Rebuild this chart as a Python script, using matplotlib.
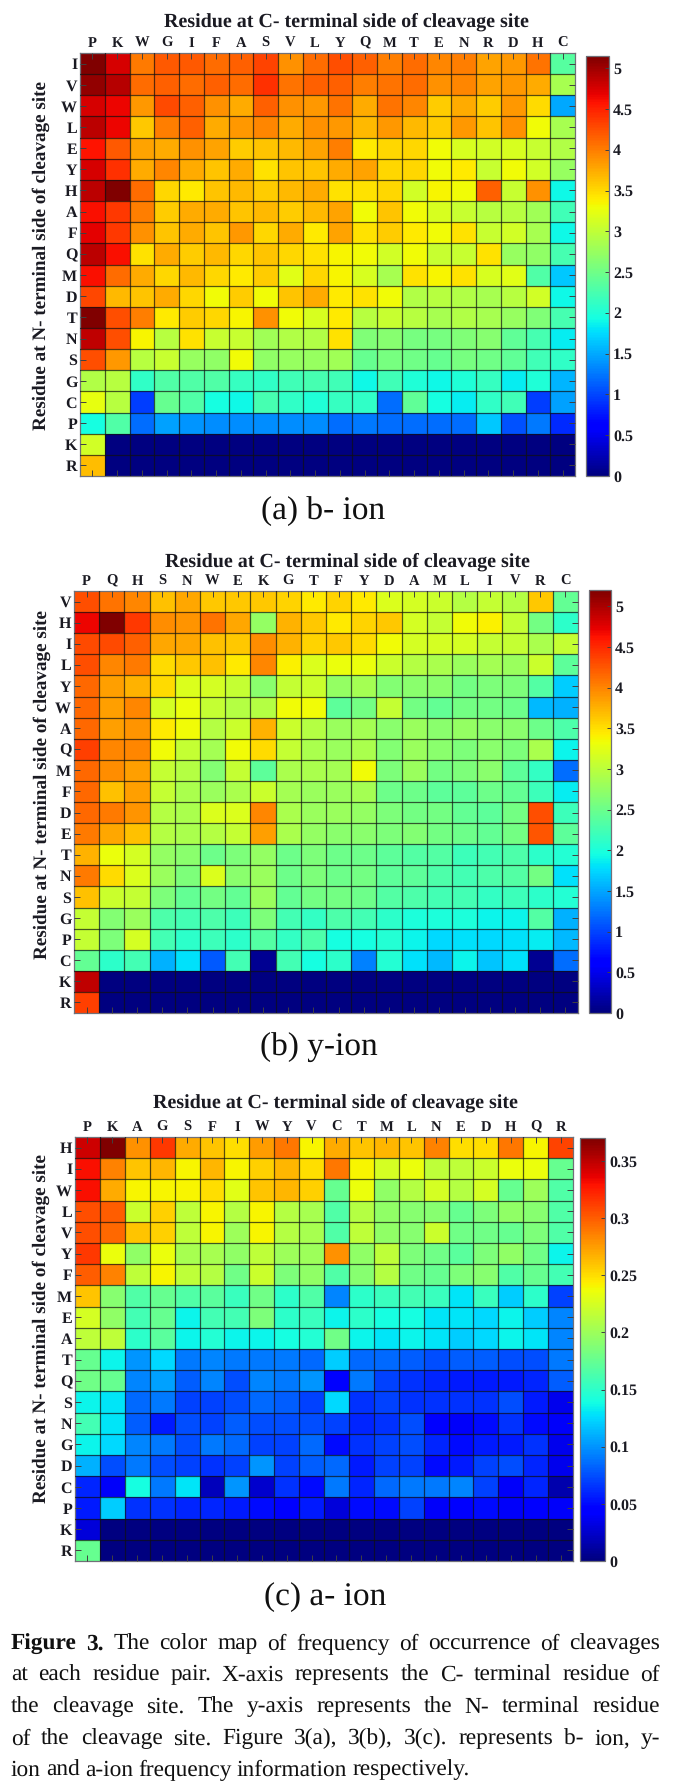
import numpy as np
import matplotlib
matplotlib.use("Agg")
import matplotlib.pyplot as plt

W, H = 674, 1784
plt.rcParams['font.family'] = ['Liberation Serif', 'DejaVu Serif']
plt.rcParams['text.hinting'] = 'no_hinting'

a_cols = list("PKWGIFASVLYQMTENRDHC")
a_rows = list("IVWLEYHAFQMDTNSGCPKR")
a_vals = [
[5.15,4.75,4.02,4.2,4.2,4.1,4.15,4.32,3.9,4.1,4.25,4.15,4.0,4.1,3.95,4.0,3.8,3.85,4.05,2.35],
[5.05,4.9,4.1,4.15,4.1,4.15,4.1,4.42,4.05,4.15,4.15,4.0,4.05,4.1,3.9,3.95,3.8,3.85,3.75,2.85],
[4.75,4.65,3.86,4.28,4.15,3.9,3.75,4.15,3.9,3.85,4.05,3.75,4.05,3.95,3.57,3.75,3.57,3.85,3.5,1.5],
[4.88,4.65,3.6,4.0,4.15,3.75,3.85,3.95,3.75,3.9,3.85,3.67,3.85,3.67,3.57,3.85,3.62,3.9,3.3,2.85],
[4.58,4.2,3.8,3.75,3.9,3.8,3.57,3.62,3.67,3.8,4.0,3.4,3.52,3.52,3.3,3.15,3.1,3.15,3.05,2.9],
[4.75,4.42,3.75,3.95,3.75,3.62,3.75,3.45,3.62,3.62,3.75,3.8,3.52,3.52,3.3,3.4,3.05,3.3,3.1,2.75],
[4.88,5.15,4.1,3.52,3.4,3.62,3.67,3.57,3.67,3.75,3.45,3.45,3.52,3.1,3.35,3.3,4.15,3.05,3.9,1.9],
[4.6,4.37,4.0,3.57,3.75,3.75,3.62,3.67,3.57,3.67,3.8,3.3,3.62,3.3,3.15,3.05,2.95,2.95,2.8,2.2],
[4.7,4.37,3.9,3.62,3.75,3.62,3.85,3.52,3.75,3.4,3.8,3.45,3.57,3.4,3.3,3.45,3.05,3.1,2.85,1.9],
[4.88,4.6,3.45,3.75,3.57,3.67,3.52,3.62,3.52,3.45,3.35,3.3,3.1,3.3,3.05,3.05,3.45,2.75,2.7,2.25],
[4.6,4.1,3.75,3.52,3.67,3.52,3.4,3.57,3.2,3.52,3.35,3.15,2.85,3.45,3.35,3.45,3.15,3.2,2.3,1.65],
[4.3,3.67,3.62,3.75,3.52,3.3,3.57,3.3,3.62,3.75,3.4,3.45,3.3,2.9,2.95,2.9,2.85,2.95,3.1,1.9],
[5.15,4.25,4.0,3.4,3.57,3.52,3.35,3.9,3.3,3.15,3.4,2.95,3.05,2.95,2.85,2.9,2.85,2.75,2.6,2.25],
[4.85,4.25,3.35,2.95,3.45,3.05,3.05,2.8,2.9,2.9,3.45,2.6,2.65,2.55,2.55,2.6,2.65,2.4,2.25,1.85],
[4.25,3.85,2.95,3.05,2.75,2.7,3.3,2.7,2.75,2.75,2.8,2.45,2.55,2.5,2.45,2.55,2.5,2.4,2.2,2.1],
[2.9,2.95,2.1,2.3,2.3,2.3,2.15,2.1,2.2,2.25,2.2,1.9,2.2,2.0,1.9,2.0,2.15,1.85,2.0,1.55],
[3.25,2.95,0.95,2.45,2.3,1.95,1.9,2.25,2.1,2.0,2.15,2.1,1.2,2.4,1.95,1.85,2.1,2.2,0.95,1.45],
[1.95,2.3,1.2,1.45,1.4,1.35,1.35,1.35,1.35,1.35,1.2,1.25,1.2,1.2,1.2,1.2,1.65,1.05,1.25,0.85],
[3.1]+[0.0]*19,
[3.65]+[0.0]*19,
]

b_cols = list("PQHSNWEKGTFYDAMLIVRC")
b_rows = list("VHILYWAQMFDETNSGPCKR")
b_vals = [
[4.3,4.1,4.0,3.67,3.8,3.62,3.62,3.62,3.57,3.45,3.57,3.45,3.2,3.15,3.1,2.95,3.05,2.95,3.62,2.45],
[4.7,5.2,4.42,3.95,3.9,4.1,3.8,2.75,3.75,3.62,3.45,3.57,3.62,3.15,3.05,3.35,3.4,3.05,2.55,2.1],
[4.32,4.32,4.2,3.8,3.8,3.67,3.62,3.95,3.75,3.57,3.62,3.52,3.35,3.15,3.15,3.15,3.05,3.05,2.9,3.05],
[4.3,4.0,4.05,3.52,3.62,3.67,3.45,4.0,3.4,3.2,3.3,3.3,3.1,2.95,2.9,2.8,2.85,2.8,3.1,2.4],
[4.15,3.85,3.75,3.52,3.2,3.15,3.05,2.7,3.05,3.1,2.75,2.85,2.65,2.7,2.7,2.55,2.6,2.6,2.35,1.7],
[4.15,3.85,4.0,3.15,3.3,3.05,2.95,2.95,3.35,3.35,2.4,2.55,3.05,2.55,2.45,2.55,2.55,2.5,1.6,1.55],
[4.15,3.85,3.9,3.45,3.35,2.95,3.1,3.75,3.1,2.95,2.8,2.85,2.7,2.8,2.7,2.75,2.7,2.7,2.5,2.3],
[4.37,4.0,4.0,3.35,3.05,2.85,3.35,3.52,3.05,2.9,2.8,2.9,2.65,2.8,2.7,2.6,2.7,2.6,2.9,1.9],
[4.15,3.95,3.85,3.05,2.95,2.65,3.05,2.4,2.9,2.9,2.85,3.35,2.6,2.8,2.55,2.6,2.7,2.4,2.15,1.2],
[4.15,3.67,3.85,3.05,2.9,2.8,2.9,3.1,2.85,2.8,2.8,2.85,2.5,2.5,2.4,2.4,2.5,2.45,2.2,1.85],
[4.15,4.05,3.9,2.95,2.9,3.2,3.2,4.0,2.9,2.8,2.8,2.75,2.6,2.55,2.55,2.45,2.4,2.55,4.3,2.2],
[4.05,3.8,3.67,2.95,2.9,2.95,3.05,3.85,2.9,2.75,2.7,2.7,2.6,2.65,2.55,2.5,2.45,2.55,4.25,2.4],
[3.75,3.3,3.15,2.75,2.7,2.5,2.6,2.75,2.5,2.6,2.5,2.5,2.4,2.35,2.35,2.2,2.25,2.3,2.1,2.05],
[4.05,3.52,3.2,2.8,2.6,3.2,2.7,2.8,2.5,2.6,2.5,2.55,2.4,2.4,2.3,2.25,2.3,2.35,2.55,1.8],
[3.67,3.1,3.05,2.6,2.45,2.55,2.45,2.8,2.45,2.55,2.55,2.5,2.35,2.3,2.25,2.25,2.15,2.2,2.1,2.05],
[3.05,2.65,2.8,2.3,2.25,2.3,2.2,2.6,2.25,2.15,2.3,2.25,2.1,2.0,2.0,2.0,1.9,1.9,2.35,1.55],
[3.05,2.6,3.15,2.25,2.1,2.2,2.1,2.35,2.15,2.3,1.95,1.95,2.05,1.9,1.75,1.8,1.75,1.8,1.85,1.6],
[2.45,2.1,2.25,1.55,1.8,1.1,2.25,0.1,2.25,1.95,2.1,1.3,2.05,1.8,1.6,1.9,1.65,1.8,0.1,1.2],
[4.9]+[0.0]*19,
[4.37]+[0.0]*19,
]

c_cols = list("PKAGSFIWYVCTMLNEDHQR")
c_rows = list("HIWLVYFMEATQSNGDCPKR")
c_vals = [
[.345,.37,.28,.315,.27,.26,.25,.275,.29,.24,.27,.26,.265,.26,.285,.25,.25,.29,.24,.31],
[.33,.285,.26,.265,.24,.265,.24,.255,.265,.25,.29,.24,.225,.235,.215,.215,.22,.235,.235,.175],
[.33,.27,.24,.24,.24,.25,.23,.26,.265,.255,.175,.235,.195,.21,.225,.21,.225,.175,.2,.165],
[.305,.30,.22,.255,.215,.24,.21,.24,.21,.205,.165,.21,.195,.19,.19,.175,.185,.195,.19,.165],
[.305,.295,.26,.255,.215,.24,.20,.24,.21,.205,.165,.215,.195,.19,.22,.18,.18,.175,.185,.165],
[.315,.235,.195,.235,.205,.205,.195,.215,.2,.2,.28,.195,.215,.185,.18,.17,.185,.195,.18,.135],
[.30,.285,.215,.24,.215,.21,.18,.22,.185,.195,.165,.19,.21,.18,.175,.185,.19,.165,.175,.16],
[.26,.19,.165,.175,.165,.17,.155,.18,.15,.165,.095,.15,.155,.16,.155,.13,.155,.12,.15,.07],
[.225,.195,.16,.175,.135,.16,.16,.185,.15,.155,.135,.15,.14,.14,.13,.13,.125,.135,.12,.095],
[.215,.215,.15,.17,.135,.145,.135,.135,.14,.145,.18,.135,.13,.135,.13,.12,.125,.135,.13,.095],
[.175,.135,.1,.125,.09,.095,.09,.09,.09,.085,.12,.085,.085,.08,.075,.08,.08,.075,.075,.09],
[.18,.175,.095,.105,.08,.095,.075,.095,.09,.1,.045,.09,.07,.065,.06,.055,.055,.055,.06,.08],
[.135,.13,.085,.09,.07,.07,.075,.085,.08,.07,.125,.065,.07,.065,.065,.065,.065,.075,.055,.035],
[.16,.13,.08,.055,.075,.07,.08,.075,.075,.075,.07,.06,.065,.075,.045,.04,.05,.065,.05,.04],
[.135,.125,.095,.09,.075,.09,.085,.07,.07,.085,.05,.065,.07,.075,.06,.05,.055,.055,.065,.035],
[.11,.075,.09,.075,.07,.065,.07,.1,.07,.08,.085,.055,.07,.07,.05,.055,.07,.075,.06,.035],
[.06,.04,.14,.09,.13,.02,.1,.025,.065,.05,.09,.06,.085,.09,.09,.095,.07,.04,.06,.015],
[.055,.12,.065,.065,.06,.06,.055,.05,.045,.055,.03,.05,.05,.07,.04,.045,.05,.04,.045,.04],
[.03]+[0.0]*19,
[.175]+[0.0]*19,
]

ab_ticks = [0, 0.5, 1, 1.5, 2, 2.5, 3, 3.5, 4, 4.5, 5]
ab_ticklabels = ["0", "0.5", "1", "1.5", "2", "2.5", "3", "3.5", "4", "4.5", "5"]
c_ticks = [0, 0.05, 0.1, 0.15, 0.2, 0.25, 0.3, 0.35]
c_ticklabels = ["0", "0.05", "0.1", "0.15", "0.2", "0.25", "0.3", "0.35"]

title_text = "Residue at C- terminal side of cleavage site"
ylabel_text = "Residue at N- terminal side of cleavage site"
text_col = "#1a1a22"

fig = plt.figure(figsize=(W / 100, H / 100), dpi=100, facecolor="white")


def px_axes(x0, y0, x1, y1):
    return fig.add_axes([x0 / W, 1 - y1 / H, (x1 - x0) / W, (y1 - y0) / H])


def panel(vals, cols, rows, box, cbox, vmax, ticks, ticklabels, title_xy, ylabel_xy, sub, sub_xy):
    ax = px_axes(*box)
    m = ax.pcolormesh(np.arange(21), np.arange(21), np.array(vals), cmap="jet", vmin=0, vmax=vmax)
    ax.set_xlim(0, 20)
    ax.set_ylim(20, 0)
    ax.xaxis.tick_top()
    ax.set_xticks(np.arange(20) + 0.5)
    ax.set_xticklabels(cols, fontsize=10.5, fontweight="bold", color=text_col)
    ax.set_yticks(np.arange(20) + 0.5)
    ax.set_yticklabels(rows, fontsize=11.5, fontweight="bold", color=text_col)
    ax.set_xticks(np.arange(1, 20), minor=True)
    ax.set_yticks(np.arange(1, 20), minor=True)
    ax.grid(which="minor", color="#101010", linewidth=0.9, alpha=0.7)
    ax.set_axisbelow(False)
    ax.tick_params(axis="both", which="major", direction="in", length=4, width=0.7, color="#404040",
                   pad=2, bottom=True, right=True)
    ax.tick_params(axis="both", which="minor", length=0)
    for s in ax.spines.values():
        s.set_color("#707078")
        s.set_linewidth(0.9)
    cax = px_axes(*cbox)
    cb = fig.colorbar(m, cax=cax)
    cb.set_ticks(ticks)
    cb.set_ticklabels(ticklabels)
    cax.tick_params(direction="in", length=3, width=0.7, color="#404040", pad=3, labelsize=11.5)
    for t in cax.get_yticklabels():
        t.set_fontweight("bold")
        t.set_color(text_col)
    cb.outline.set_edgecolor("#707078")
    cb.outline.set_linewidth(0.9)
    fig.text(title_xy[0] / W, 1 - title_xy[1] / H, title_text, fontsize=14.4, fontweight="bold",
             color=text_col, ha="center", va="center")
    fig.text(ylabel_xy[0] / W, 1 - ylabel_xy[1] / H, ylabel_text, fontsize=13.8, fontweight="bold",
             color=text_col, ha="center", va="center", rotation=90)
    fig.text(sub_xy[0] / W, 1 - sub_xy[1] / H, sub, fontsize=24, color="#101010", ha="center", va="center")


panel(a_vals, a_cols, a_rows, (80, 53, 575, 476), (586, 56, 609, 476), 5.15, ab_ticks, ab_ticklabels,
      (346, 22), (41, 256), "(a) b- ion", (323, 511))
panel(b_vals, b_cols, b_rows, (74, 591, 578, 1013), (589, 590, 611, 1013), 5.2, ab_ticks, ab_ticklabels,
      (347, 562), (42, 785), "(b) y-ion", (319, 1048))
panel(c_vals, c_cols, c_rows, (75, 1137, 573, 1561), (580, 1138, 605, 1561), 0.37, c_ticks, c_ticklabels,
      (335, 1103), (41, 1329), "(c) a- ion", (325, 1597))

caption = [
    ("Figure 3. The color map of frequency of occurrence of cleavages", 1644, True),
    ("at each residue pair. X-axis represents the C- terminal residue of", 1675, True),
    ("the cleavage site. The y-axis represents the N- terminal residue", 1707, True),
    ("of the cleavage site. Figure 3(a), 3(b), 3(c). represents b- ion, y-", 1739, True),
    ("ion and a-ion frequency information respectively.", 1770, False),
]
cap_left, cap_right, cap_size = 11, 660, 16.8
renderer = fig.canvas.get_renderer()
for line_text, y, justify in caption:
    words = line_text.split(" ")
    artists = []
    for i, w in enumerate(words):
        bold = line_text.startswith("Figure 3.") and i < 2
        artists.append(fig.text(0, 1 - y / H, w, fontsize=cap_size, color="#101010", va="center",
                                fontweight="bold" if bold else "normal"))
    widths = [t.get_window_extent(renderer).width for t in artists]
    space = (cap_right - cap_left - sum(widths)) / (len(words) - 1) if justify else cap_size * 100 / 72 * 0.22
    x = cap_left
    for t, wd in zip(artists, widths):
        t.set_x(x / W)
        x += wd + space

fig.savefig("out.png", dpi=100, facecolor="white")
